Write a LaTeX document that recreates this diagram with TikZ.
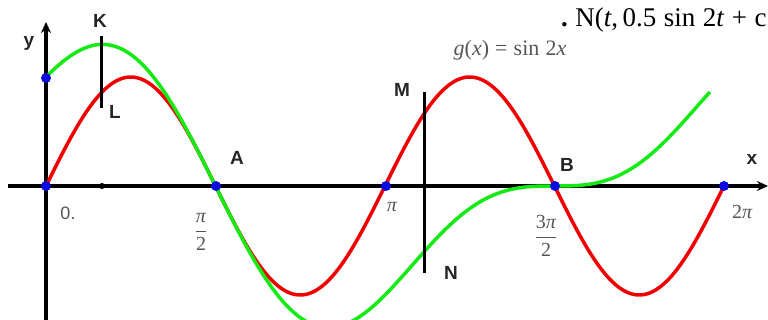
\documentclass[tikz,border=0pt]{standalone}
\usepackage{fontspec}
\setmainfont{Liberation Serif}
\newfontfamily\arl{Liberation Sans}
\newfontfamily\tms{Liberation Serif}
\usetikzlibrary{arrows.meta}
\definecolor{cred}{RGB}{240,0,0}
\definecolor{cgreen}{RGB}{20,235,20}
\definecolor{cblue}{RGB}{10,10,225}
\definecolor{lgray}{RGB}{85,85,85}
\begin{document}
\begin{tikzpicture}[x=1pt,y=-1pt,
  lbl/.style={font=\arl\bfseries\fontsize{19}{19}\selectfont, text=black!85, inner sep=0pt},
  num/.style={font=\tms\fontsize{20}{20}\selectfont, text=lgray, inner sep=0pt},
  pdot/.style={circle, fill=cblue, inner sep=0pt, minimum size=10pt},
  axisline/.style={line width=3.5pt, -{Stealth[length=11pt,width=10pt]}},
  curve/.style={line width=3.5pt, line join=round},
  seg/.style={line width=3pt}]
\useasboundingbox (0,0) rectangle (768,320);
\clip (0,0) rectangle (768,320);
% axes
\coordinate (xs) at (8,186);
\coordinate (xe) at (768,186);
\coordinate (ys) at (46,322);
\coordinate (ye) at (46,22);
\draw[axisline] (xs) -- (xe);
\draw[axisline] (ys) -- (ye);
% curves
\draw[curve, cred] plot[domain=0:6.2832, samples=240, smooth]
  ({46+107.9*\x},{186-109*sin(2*\x r)});
\draw[curve, cgreen] plot[domain=0:6.154, samples=240, smooth]
  ({46+107.9*\x},{186-109*(0.5*sin(2*\x r)+cos(\x r))});
% segments
\coordinate (k) at (101,36);
\coordinate (l) at (101,108);
\coordinate (m) at (424,92);
\coordinate (n) at (424,273);
\draw[seg] (k) -- (l);
\draw[seg] (m) -- (n);
% tick
\node[circle, fill=black, inner sep=0pt, minimum size=6pt] (tk) at (102,186) {};
% points
\node[pdot] (p0) at (46,186) {};
\node[pdot] (p1) at (46,78) {};
\node[pdot] (pa) at (216,186) {};
\node[pdot] (pp) at (386,186) {};
\node[pdot] (pb) at (555,186) {};
\node[pdot] (p2) at (724,186) {};
% letter labels
\node[lbl] (ly) at (29,43) {y};
\node[lbl] (lx) at (752,159) {x};
\node[lbl] (lk) at (100,21) {K};
\node[lbl] (ll) at (115,112) {L};
\node[lbl] (lm) at (402,90) {M};
\node[lbl] (ln) at (451,273) {N};
\node[lbl] (la) at (237,158) {A};
\node[lbl] (lb) at (567,165) {B};
% numeric labels
\node[font=\arl\fontsize{18}{18}\selectfont, text=lgray, inner sep=0pt] (l0) at (68,213) {0.};
\node[num] (lpi2) at (201,232) {$\displaystyle\frac{\hbox{\tms\itshape π}}{\hbox{\tms 2}}$};
\node[num] (lpi) at (392,207) {\itshape π};
\node[num] (l3pi2) at (546,236) {$\displaystyle\frac{\hbox{\tms 3\itshape π}}{\hbox{\tms 2}}$};
\node[num] (l2pi) at (742,212) {2\itshape π};
% formula labels
\node[font=\tms\fontsize{22}{22}\selectfont, text=lgray, inner sep=0pt] (lg) at (510,50) {\textit{g}(\textit{x})\;=\;sin\;2\textit{x}};
\node[font=\tms\fontsize{27}{27}\selectfont, text=black, inner sep=0pt, anchor=base west] (top) at (561,27) {\textbf{.}\;N(\textit{t},\,0.5\;sin\;2\textit{t}\;+\;c};
\end{tikzpicture}
\end{document}
